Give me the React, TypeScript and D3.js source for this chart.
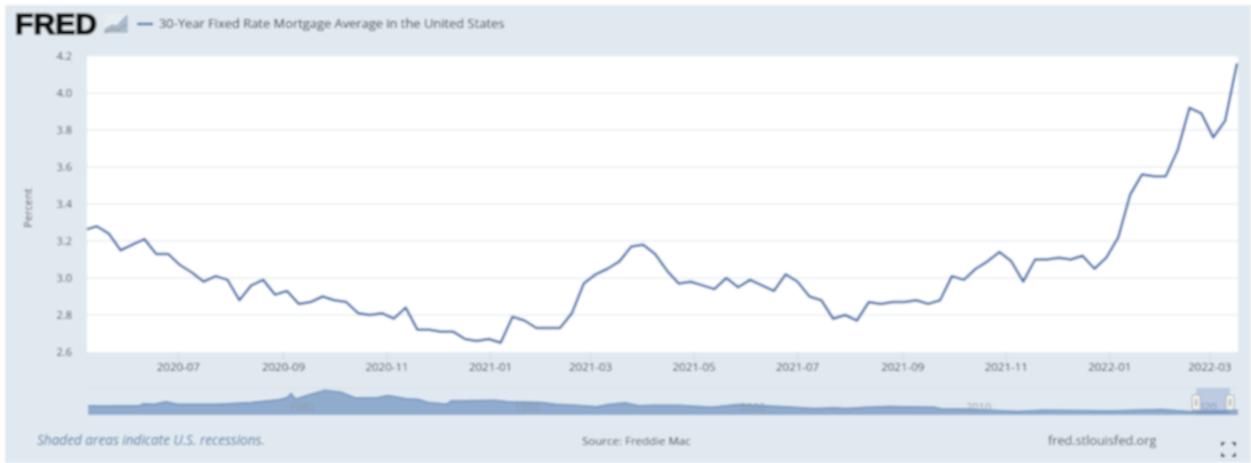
import { useEffect, useRef } from 'react';
import * as d3 from 'd3';

// weekly PMMS readings, first reading 2020-05-07
const firstWeek = new Date(Date.UTC(2020, 4, 7));
const rates = [
  3.26, 3.28, 3.24, 3.15, 3.18, 3.21, 3.13, 3.13, 3.07, 3.03, 2.98, 3.01, 2.99, 2.88, 2.96, 2.99,
  2.91, 2.93, 2.86, 2.87, 2.9, 2.88, 2.87, 2.81, 2.8, 2.81, 2.78, 2.84, 2.72, 2.72, 2.71, 2.71,
  2.67, 2.66, 2.67, 2.65, 2.79, 2.77, 2.73, 2.73, 2.73, 2.81, 2.97, 3.02, 3.05, 3.09, 3.17, 3.18,
  3.13, 3.04, 2.97, 2.98, 2.96, 2.94, 3.0, 2.95, 2.99, 2.96, 2.93, 3.02, 2.98, 2.9, 2.88, 2.78,
  2.8, 2.77, 2.87, 2.86, 2.87, 2.87, 2.88, 2.86, 2.88, 3.01, 2.99, 3.05, 3.09, 3.14, 3.09, 2.98,
  3.1, 3.1, 3.11, 3.1, 3.12, 3.05, 3.11, 3.22, 3.45, 3.56, 3.55, 3.55, 3.69, 3.92, 3.89, 3.76,
  3.85, 4.16,
];
const yTicks = [2.6, 2.8, 3.0, 3.2, 3.4, 3.6, 3.8, 4.0, 4.2];
const xTicks = [
  '2020-07', '2020-09', '2020-11', '2021-01', '2021-03', '2021-05',
  '2021-07', '2021-09', '2021-11', '2022-01', '2022-03',
];

// navigator overview, whole history
const navYears = [
  1971.25, 1971.7, 1973.5, 1973.7, 1974.2, 1974.7, 1975.25, 1977, 1978.5, 1979.7, 1980.05, 1980.25,
  1980.45, 1980.9, 1981.75, 1982.5, 1983.1, 1983.5, 1984.1, 1984.55, 1985.3, 1985.9, 1986.3, 1987.15,
  1987.35, 1987.95, 1989.3, 1989.85, 1991.35, 1991.95, 1992.85, 1993.8, 1994.3, 1995.05, 1995.65,
  1996.25, 1997.4, 1998.9, 2000.05, 2001.25, 2002.1, 2003.45, 2004.35, 2004.8, 2005.8, 2006.7,
  2008.75, 2009.05, 2010.25, 2011.3, 2012.45, 2013.5, 2015.1, 2016.6, 2017.2, 2018.8, 2020.15,
  2021.05, 2022.2,
];
const navValues = [
  6.9, 6.7, 6.9, 8.4, 8.1, 9.9, 8.1, 8.1, 9.4, 11.4, 12.8, 16, 11.8, 14.3, 18.5, 16.8, 12.8, 12.8,
  13.1, 14.5, 12.3, 11.6, 9.6, 8.1, 10.6, 10.6, 11.1, 9.9, 9.4, 8.1, 7.4, 6.2, 7.9, 9.1, 6.9, 7.4,
  7.4, 5.9, 7.9, 6.9, 6.2, 4.9, 5.4, 4.9, 5.9, 6.4, 5.9, 4.7, 4.4, 3.7, 2.7, 3.7, 3.5, 3, 3.5, 4.2,
  2.5, 3, 3.5,
];
const navLabels = [1980, 1990, 2000, 2010, 2020];

const LINE = '#3a6ca8';
const FONT = '"Open Sans", "Liberation Sans", sans-serif';

const App = () => {
  const svgRef = useRef<SVGSVGElement>(null);

  useEffect(() => {
    const svg = d3.select(svgRef.current);
    svg.selectAll('*').remove();
    const root = svg.append('g').attr('filter', 'url(#soft)');

    const plot = { left: 87, right: 1238, top: 55, bottom: 352 };

    // the source is a soft, upscaled screenshot
    const defs = svg.append('defs');
    defs.append('filter').attr('id', 'soft').attr('x', 0).attr('y', 0).attr('width', 1).attr('height', 1)
      .append('feGaussianBlur').attr('stdDeviation', 0.8);
    defs.append('clipPath').attr('id', 'plot-clip')
      .append('rect')
      .attr('x', plot.left).attr('y', plot.top)
      .attr('width', plot.right - plot.left).attr('height', plot.bottom - plot.top);

    root.append('rect').attr('width', 1251).attr('height', 463).attr('fill', '#fff');
    root.append('rect').attr('x', 5).attr('y', 5).attr('width', 1246).attr('height', 458).attr('fill', '#e1e9f0');

    const dates = rates.map((_, i) => d3.utcDay.offset(firstWeek, i * 7));
    // first week sits just left of the plot edge and gets clipped
    const x = d3.scaleUtc()
      .domain([firstWeek, dates[dates.length - 1]])
      .range([plot.left - 2, plot.right - 1]);
    const y = d3.scaleLinear().domain([2.6, 4.2]).range([plot.bottom, plot.top + 1]);

    root.append('rect')
      .attr('x', plot.left).attr('y', plot.top)
      .attr('width', plot.right - plot.left).attr('height', plot.bottom - plot.top)
      .attr('fill', '#fff');

    // gridlines
    root.append('g').selectAll('line').data(yTicks.slice(1)).join('line')
      .attr('x1', plot.left).attr('x2', plot.right)
      .attr('y1', d => y(d)).attr('y2', d => y(d))
      .attr('stroke', '#e9edf1').attr('stroke-width', 1.3);

    // y tick labels
    root.append('g').selectAll('text').data(yTicks).join('text')
      .attr('x', 72).attr('y', d => y(d) + 4)
      .attr('text-anchor', 'end')
      .attr('font-family', FONT).attr('font-size', 11).attr('fill', '#444')
      .text(d => d.toFixed(1));

    root.append('text')
      .attr('transform', `translate(32,208) rotate(-90)`)
      .attr('text-anchor', 'middle')
      .attr('font-family', FONT).attr('font-size', 11).attr('fill', '#444')
      .text('Percent');

    // x ticks and labels
    const parseMonth = d3.utcParse('%Y-%m');
    const xAxis = root.append('g').selectAll('g').data(xTicks).join('g')
      .attr('transform', d => `translate(${x(parseMonth(d) as Date)},0)`);
    xAxis.append('line')
      .attr('y1', plot.bottom).attr('y2', plot.bottom + 9)
      .attr('stroke', '#ccd6eb');
    xAxis.append('text')
      .attr('y', 371).attr('text-anchor', 'middle')
      .attr('font-family', FONT).attr('font-size', 11.5).attr('fill', '#333')
      .text(d => d);

    const line = d3.line<number>()
      .x((_, i) => x(dates[i]))
      .y(d => y(d));
    root.append('path')
      .datum(rates)
      .attr('d', line)
      .attr('clip-path', 'url(#plot-clip)')
      .attr('fill', 'none')
      .attr('stroke', LINE)
      .attr('stroke-width', 2.5)
      .attr('stroke-linejoin', 'round');

    // navigator
    const nav = { top: 388, bottom: 415 };
    const navX = d3.scaleLinear().domain([1971.25, 2022.2]).range([plot.left + 1, plot.right]);
    const navY = d3.scaleLinear().domain([0, 18.5]).range([nav.bottom, 390]);

    root.append('line')
      .attr('x1', plot.left + 1).attr('x2', plot.right)
      .attr('y1', nav.top).attr('y2', nav.top)
      .attr('stroke', '#d8dde2');

    const navArea = d3.area<number>()
      .x((_, i) => navX(navYears[i]))
      .y0(nav.bottom)
      .y1(d => navY(d));
    root.append('path').datum(navValues).attr('d', navArea).attr('fill', '#8fabcd');
    root.append('path').datum(navValues)
      .attr('d', navArea.lineY1())
      .attr('fill', 'none').attr('stroke', '#5f88ba').attr('stroke-width', 1.2);

    root.append('g').selectAll('text').data(navLabels).join('text')
      .attr('x', d => navX(d) + 16).attr('y', 411)
      .attr('text-anchor', 'middle')
      .attr('font-family', FONT).attr('font-size', 11).attr('fill', '#8f9cab')
      .text(d => d);

    // selected range and handles
    const selStart = navX(2020.35);
    const selEnd = navX(2022.2) - 8;
    root.append('rect')
      .attr('x', selStart).attr('y', nav.top)
      .attr('width', selEnd - selStart).attr('height', nav.bottom - nav.top)
      .attr('fill', '#6685c2').attr('fill-opacity', 0.3);
    root.append('g').selectAll('rect').data([selStart, selEnd]).join('rect')
      .attr('x', d => d - 4).attr('y', 395).attr('width', 8).attr('height', 15).attr('rx', 1)
      .attr('fill', '#f2f2f2').attr('stroke', '#aaa');
    root.append('g').selectAll('line').data([selStart, selEnd]).join('line')
      .attr('x1', d => d).attr('x2', d => d).attr('y1', 399).attr('y2', 406)
      .attr('stroke', '#666');

    // footer
    const footer = [
      { text: 'Shaded areas indicate U.S. recessions.', x: 37, size: 13.6, fill: '#4a729e', style: 'italic' },
      { text: 'Source: Freddie Mac', x: 582, size: 11.5, fill: '#333', style: 'normal' },
      { text: 'fred.stlouisfed.org', x: 1048, size: 12.7, fill: '#444', style: 'normal' },
    ];
    root.append('g').selectAll('text').data(footer).join('text')
      .attr('x', d => d.x).attr('y', 445)
      .attr('font-family', FONT).attr('font-size', d => d.size)
      .attr('font-style', d => d.style).attr('fill', d => d.fill)
      .text(d => d.text);

    // fullscreen corners
    const corners = d3.path();
    [[1222, 443, 1, 1], [1235, 443, -1, 1], [1222, 456, 1, -1], [1235, 456, -1, -1]].forEach(([cx, cy, dx, dy]) => {
      corners.moveTo(cx, cy + dy * 3);
      corners.lineTo(cx, cy);
      corners.lineTo(cx + dx * 3, cy);
    });
    root.append('path').attr('d', corners.toString()).attr('fill', 'none').attr('stroke', '#111').attr('stroke-width', 2);

    // header
    root.append('text')
      .attr('x', 15).attr('y', 34)
      .attr('font-family', '"Liberation Sans", sans-serif').attr('font-weight', 700).attr('font-size', 29)
      .attr('textLength', 82).attr('lengthAdjust', 'spacingAndGlyphs')
      .attr('fill', '#111').attr('stroke', '#111').attr('stroke-width', 1.5)
      .text('FRED');
    const icon = root.append('g');
    icon.append('rect').attr('x', 105).attr('y', 14).attr('width', 23).attr('height', 20).attr('fill', '#e8edf2');
    const iconArea = [[105, 33], [105, 29], [112, 25], [117, 26], [122, 20], [127, 15], [127, 33]];
    icon.append('path').attr('d', d3.line()(iconArea as [number, number][]))
      .attr('fill', '#a9bdd3').attr('stroke', '#8ea9c6').attr('stroke-width', 1);
    const iconLow = [[105, 33], [112, 29], [118, 30], [127, 24]];
    icon.append('path').attr('d', d3.line()(iconLow as [number, number][]))
      .attr('fill', 'none').attr('stroke', '#ab9f86').attr('stroke-width', 1.5);

    root.append('line')
      .attr('x1', 137).attr('x2', 153).attr('y1', 24).attr('y2', 24)
      .attr('stroke', LINE).attr('stroke-width', 2.4);
    root.append('text')
      .attr('x', 159).attr('y', 28)
      .attr('font-family', FONT).attr('font-size', 12.9).attr('fill', '#222')
      .text('30-Year Fixed Rate Mortgage Average in the United States');
  }, []);

  return <svg ref={svgRef} width={1251} height={463} style={{ position: 'fixed', left: 0, top: 0 }} />;
};

export default App;
